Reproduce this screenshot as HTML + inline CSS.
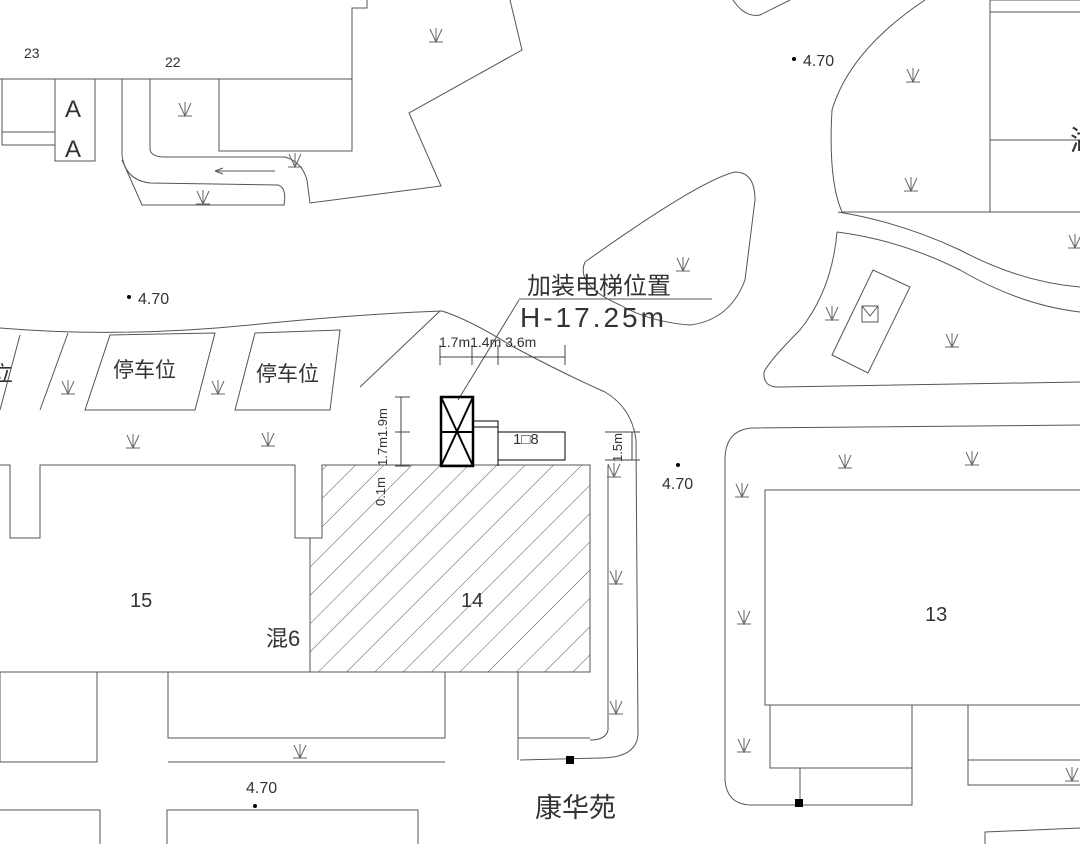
<!DOCTYPE html>
<html><head><meta charset="utf-8"><style>
html,body{margin:0;padding:0;background:#fff;width:1080px;height:844px;overflow:hidden}
svg{display:block}
text{font-family:"Liberation Sans","Noto Sans CJK SC",sans-serif;fill:#333}
</style></head><body>
<svg width="1080" height="844" viewBox="0 0 1080 844" xmlns="http://www.w3.org/2000/svg">
<defs>
<g id="g"><path d="M-6 -8 L0 5 L6 -8 M0 -9 V5 M-7 5 H7" stroke="#666" stroke-width="1" fill="none"/></g>
<pattern id="h" patternUnits="userSpaceOnUse" width="20" height="20" patternTransform="rotate(45)">
<line x1="0" y1="0" x2="0" y2="20" stroke="#555" stroke-width="1"/></pattern>
</defs>
<g fill="none" stroke="#555" stroke-width="1">
<path d="M367 0 V8 H352 V79 H0"/>
<rect x="2" y="79" width="53" height="66"/><path d="M2 132 H55"/>
<rect x="55" y="79" width="40" height="82"/>
<rect x="219" y="79" width="133" height="72"/>
<path d="M122 79 V155 Q125 180 150 183 L278 185 Q287 188 284 205 L142 205 L122 160"/>
<path d="M150 79 V150 Q152 157 165 157 L285 157 Q302 162 307 180 L310 203 L441 186 L409 113 L522 50 L510 0"/>
<path d="M215 171 H275 M215 171 l8 -3 M215 171 l8 3"/>
<path d="M733 0 Q745 18 760 15 L790 0"/>
<path d="M925 0 Q850 50 832 110 Q828 180 842 212 L990 212"/>
<rect x="990" y="0" width="95" height="212"/><path d="M990 12 H1080 M990 140 H1080"/>
<path d="M838 212 Q900 222 960 250 Q1020 282 1080 287"/>
<path d="M837 232 Q900 240 960 270 Q1020 305 1080 312"/>
<path d="M837 232 Q832 290 800 330 Q770 360 764 372 Q763 388 780 387 L1080 382"/>
<path d="M832 355 L873 270 L910 287 L868 373 Z"/><rect x="862" y="306" width="16" height="16"/><path d="M862 306 L870 316 L878 306"/>
<path d="M585 262 Q575 285 620 305 Q650 322 690 325 Q730 320 745 280 L755 200 Q755 172 735 172 Q700 180 585 262"/>
<path d="M519 299 H712 M519 300 L458 400"/>
<path d="M0 328 Q120 338 250 325 Q360 314 442 311 Q470 320 510 345 Q560 372 605 392 Q632 408 636 440 L638 735 Q636 758 600 758 L520 760"/>
<path d="M440 311 L360 387"/>
<path d="M0 410 L20 335 M40 410 L68 333"/>
<path d="M110 335 L215 333 L195 410 L85 410 Z"/>
<path d="M255 333 L340 330 L330 410 L235 410 Z"/>
<path d="M0 465 H10 V538 H40 V465 H295 V538 H322 V465 H590 V672 H0"/>
<path d="M322 465 H590 V672 H310 V538 H322 Z" fill="url(#h)"/>
<path d="M608 465 V730 Q606 740 590 740"/>
<rect x="0" y="672" width="97" height="90"/>
<rect x="168" y="672" width="277" height="66"/><path d="M168 762 H445"/>
<path d="M518 672 V760 M518 738 H590"/>
<path d="M1080 425 L752 428 Q725 430 725 460 L725 780 Q727 805 752 805 L912 805 V705"/>
<rect x="765" y="490" width="320" height="215"/>
<path d="M770 705 V768 H912 M800 768 V800"/>
<path d="M968 705 V785 H1080 M968 760 H1080"/>
<path d="M0 810 H100 V844 M167 844 V810 H418 V844 M985 844 V832 L1080 828"/>
</g>
<rect x="566" y="756" width="8" height="8" fill="#000"/>
<rect x="795" y="799" width="8" height="8" fill="#000"/>
<g fill="none" stroke="#000">
<rect x="441" y="397" width="32" height="69" stroke-width="2.5"/>
<path d="M441 432 H473 M441 397 L473 466 M473 397 L441 466" stroke-width="2"/>
<path d="M473 421 H498 V466 M473 427 H498" stroke-width="1"/>
<rect x="498" y="432" width="67" height="28" stroke-width="1"/>
</g>
<g stroke="#444" stroke-width="1" fill="none">
<path d="M440 357 H565 M440 345 V365 M472 345 V365 M498 345 V365 M565 345 V365"/>
<path d="M395 397 H410 M395 432 H410 M395 466 H410 M401 397 V466"/>
<path d="M605 432 H640 M605 460 H640 M632 432 V460"/>
</g>
<text x="439" y="347" font-size="14" fill="#555">1.7m1.4m 3.6m</text>
<text transform="translate(387 466) rotate(-90)" font-size="13" fill="#555">1.7m1.9m</text>
<text transform="translate(385 506) rotate(-90)" font-size="13" fill="#555">0.1m</text>
<text transform="translate(622 462) rotate(-90)" font-size="13" fill="#555">1.5m</text>
<text x="513" y="444" font-size="15" fill="#000">1□8</text>
<text x="527" y="294" font-size="24" fill="#888">加装电梯位置</text>
<text x="520" y="327" font-size="28" fill="#999" letter-spacing="3">H-17.25m</text>
<text x="24" y="58" font-size="14">23</text>
<text x="165" y="67" font-size="14">22</text>
<text x="65" y="117" font-size="24" fill="#666">A</text>
<text x="65" y="157" font-size="24" fill="#666">A</text>
<text x="113" y="377" font-size="21">停车位</text>
<text x="256" y="381" font-size="21">停车位</text>
<text x="-8" y="381" font-size="21">立</text>
<text x="130" y="607" font-size="20">15</text>
<text x="461" y="607" font-size="20">14</text>
<text x="925" y="621" font-size="20">13</text>
<text x="266" y="646" font-size="22">混6</text>
<text x="535" y="817" font-size="27">康华苑</text>
<text x="1070" y="150" font-size="28">湖</text>
<circle cx="794" cy="59" r="2" fill="#000"/><text x="803" y="66" font-size="16">4.70</text>
<circle cx="129" cy="297" r="2" fill="#000"/><text x="138" y="304" font-size="16">4.70</text>
<circle cx="678" cy="465" r="2" fill="#000"/><text x="662" y="489" font-size="16">4.70</text>
<circle cx="255" cy="806" r="2" fill="#000"/><text x="246" y="793" font-size="16">4.70</text>
<use href="#g" x="436" y="37"/><use href="#g" x="185" y="111"/><use href="#g" x="295" y="162"/>
<use href="#g" x="203" y="199"/><use href="#g" x="913" y="77"/><use href="#g" x="911" y="186"/>
<use href="#g" x="683" y="266"/><use href="#g" x="832" y="315"/><use href="#g" x="952" y="342"/>
<use href="#g" x="68" y="389"/><use href="#g" x="218" y="389"/><use href="#g" x="133" y="443"/>
<use href="#g" x="268" y="441"/><use href="#g" x="614" y="472"/><use href="#g" x="616" y="579"/>
<use href="#g" x="616" y="709"/><use href="#g" x="845" y="463"/><use href="#g" x="972" y="460"/>
<use href="#g" x="742" y="492"/><use href="#g" x="744" y="619"/><use href="#g" x="744" y="747"/>
<use href="#g" x="300" y="753"/><use href="#g" x="1072" y="776"/><use href="#g" x="1075" y="243"/>
</svg>
</body></html>
